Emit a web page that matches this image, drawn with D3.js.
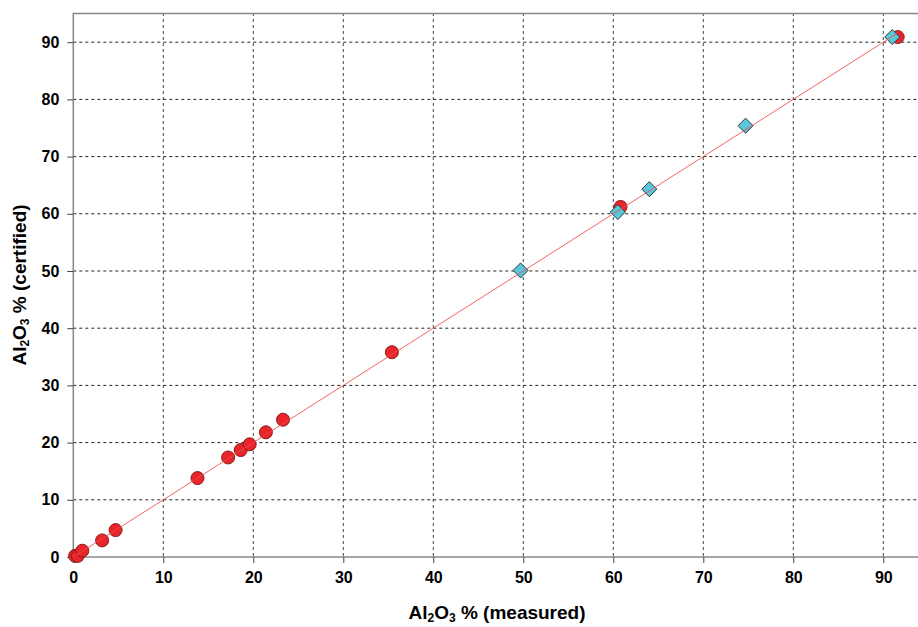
<!DOCTYPE html>
<html><head><meta charset="utf-8">
<script src="https://cdn.jsdelivr.net/npm/d3@7"></script>
<style>body{margin:0;background:#fff}svg{display:block}</style>
</head><body><svg id="c" width="918" height="627"></svg>
<script>
// Data
const circleX = [0.2, 0.5, 1.0, 3.2, 4.7, 13.8, 17.2, 18.6, 19.6, 21.4, 23.3, 35.4, 60.8, 91.6];
const circleY = [0.2, 0.2, 1.1, 2.9, 4.7, 13.8, 17.4, 18.7, 19.7, 21.8, 24.0, 35.8, 61.2, 90.9];
const diamondX = [49.7, 60.5, 64.0, 74.7, 91.0];
const diamondY = [50.1, 60.3, 64.3, 75.4, 90.9];
const lineX = [0, 91.5];
const lineY = [0, 91.5];
const xTicks = [0, 10, 20, 30, 40, 50, 60, 70, 80, 90];
const yTicks = [0, 10, 20, 30, 40, 50, 60, 70, 80, 90];

const svg = d3.select("#c");
const L = 73.3, T = 13, B = 557;
const x = d3.scaleLinear().domain([0, 95]).range([L, L + 95 * 9]);
const y = d3.scaleLinear().domain([0, 95.1]).range([B, T]);
const font = "'Liberation Sans', Arial, sans-serif";

// grid
const g = svg.append("g");
g.selectAll(".vg").data(xTicks.filter(d => d > 0)).join("line")
  .attr("x1", d => x(d)).attr("x2", d => x(d)).attr("y1", T).attr("y2", B)
  .attr("stroke", "#444").attr("stroke-width", 1).attr("stroke-dasharray", "3,3");
g.selectAll(".hg").data(yTicks.filter(d => d > 0)).join("line")
  .attr("x1", L).attr("x2", 918).attr("y1", d => y(d)).attr("y2", d => y(d))
  .attr("stroke", "#222").attr("stroke-width", 1).attr("stroke-dasharray", "3,3");

// top border
svg.append("line").attr("x1", L).attr("x2", 918).attr("y1", T + 0.5).attr("y2", T + 0.5)
  .attr("stroke", "#888").attr("stroke-width", 1.5);

// axes
const xa = svg.append("g").attr("transform", `translate(0,${B})`)
  .call(d3.axisBottom(x).tickValues(xTicks).tickSize(6).tickPadding(9).tickSizeOuter(0));
const ya = svg.append("g").attr("transform", `translate(${L},0)`)
  .call(d3.axisLeft(y).tickValues(yTicks).tickSize(6).tickPadding(8).tickSizeOuter(0));
[xa, ya].forEach(a => {
  a.select(".domain").attr("stroke", "#888").attr("stroke-width", 1.5);
  a.selectAll(".tick line").attr("stroke", "#444");
  a.selectAll("text").attr("font-family", font).attr("font-size", 16)
    .attr("font-weight", "bold").attr("fill", "#000");
});
ya.select(".domain").attr("d", `M0,${T}V${B}`);
xa.select(".domain").attr("d", `M${L},0H918`);

// points
svg.append("g").selectAll("circle").data(circleX.map((d, i) => [d, circleY[i]])).join("circle")
  .attr("cx", d => x(d[0])).attr("cy", d => y(d[1])).attr("r", 6.5)
  .attr("fill", "#e8252a").attr("stroke", "#8a1e1e").attr("stroke-width", 1);
const ds = 7.5;
svg.append("g").selectAll("path").data(diamondX.map((d, i) => [d, diamondY[i]])).join("path")
  .attr("d", d => `M${x(d[0])},${y(d[1]) - ds}L${x(d[0]) + ds},${y(d[1])}L${x(d[0])},${y(d[1]) + ds}L${x(d[0]) - ds},${y(d[1])}Z`)
  .attr("fill", "#5ac6da").attr("stroke", "#2a3a40").attr("stroke-width", 1);

// fit line
svg.append("path").datum(lineX.map((d, i) => [d, lineY[i]]))
  .attr("d", d3.line().x(d => x(d[0])).y(d => y(d[1])))
  .attr("stroke", "#f04a4a").attr("stroke-width", 1).attr("fill", "none").attr("opacity", 0.85);

// axis titles
const xt = svg.append("text").attr("x", 497).attr("y", 619).attr("text-anchor", "middle")
  .attr("font-family", font).attr("font-size", 19).attr("font-weight", "bold");
xt.append("tspan").text("Al");
xt.append("tspan").text("2").attr("font-size", 12).attr("dy", 3);
xt.append("tspan").text("O").attr("dy", -3);
xt.append("tspan").text("3").attr("font-size", 12).attr("dy", 3);
xt.append("tspan").text(" % (measured)").attr("dy", -3);

const yt = svg.append("text").attr("transform", "translate(26,285) rotate(-90)").attr("text-anchor", "middle")
  .attr("font-family", font).attr("font-size", 19).attr("font-weight", "bold");
yt.append("tspan").text("Al");
yt.append("tspan").text("2").attr("font-size", 12).attr("dy", 3);
yt.append("tspan").text("O").attr("dy", -3);
yt.append("tspan").text("3").attr("font-size", 12).attr("dy", 3);
yt.append("tspan").text(" % (certified)").attr("dy", -3);
</script></body></html>
